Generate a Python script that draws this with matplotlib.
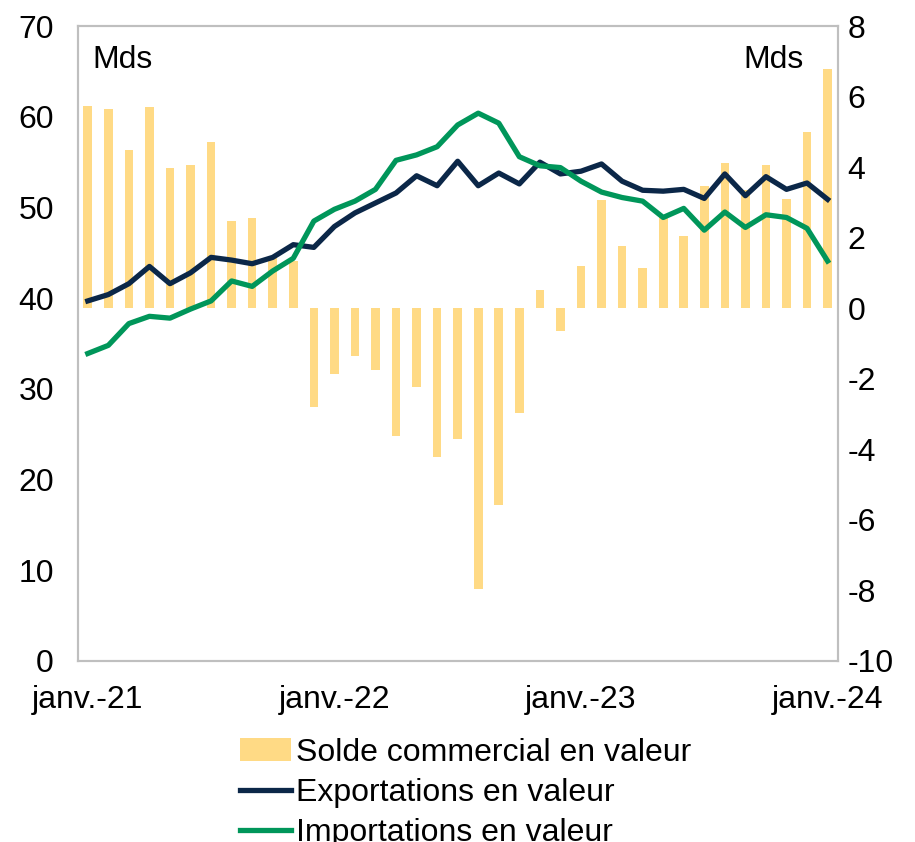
import numpy as np
import matplotlib.pyplot as plt

plt.rcParams['font.family'] = ['Liberation Sans', 'DejaVu Sans']
plt.rcParams['axes.unicode_minus'] = False

# monthly data, janv.-21 .. janv.-24 (Mds)
solde = [5.73, 5.65, 4.49, 5.70, 3.98, 4.06, 4.70, 2.47, 2.55, 1.45, 1.35,
         -2.80, -1.85, -1.35, -1.75, -3.61, -2.22, -4.21, -3.72, -7.95, -5.59,
         -2.96, 0.51, -0.64, 1.20, 3.07, 1.76, 1.14, 2.60, 2.04, 3.46, 4.12,
         3.35, 4.07, 3.11, 4.99, 6.77]
exports = [39.7, 40.4, 41.6, 43.5, 41.6, 42.8, 44.5, 44.2, 43.8, 44.5, 45.9,
           45.6, 47.9, 49.4, 50.5, 51.6, 53.5, 52.4, 55.1, 52.4, 53.8, 52.6,
           55.0, 53.7, 54.0, 54.8, 52.9, 51.9, 51.8, 52.0, 51.0, 53.7, 51.3,
           53.4, 52.0, 52.7, 50.9]
imports = [33.9, 34.8, 37.2, 38.0, 37.8, 38.8, 39.7, 41.9, 41.3, 43.0, 44.4,
           48.5, 49.8, 50.7, 52.0, 55.2, 55.8, 56.7, 59.1, 60.4, 59.3, 55.6,
           54.6, 54.4, 52.9, 51.7, 51.1, 50.7, 48.9, 49.9, 47.5, 49.5, 47.8,
           49.2, 48.9, 47.7, 44.1]
tick_idx = [0, 12, 24, 36]
tick_labels = ['janv.-21', 'janv.-22', 'janv.-23', 'janv.-24']

x = np.arange(len(solde))
fs = 23
grey = '#BFBFBF'

fig = plt.figure(figsize=(9.15, 8.42), dpi=100)
ax = fig.add_axes([0.0847, 0.215, 0.831, 0.754])
ax2 = ax.twinx()
ax.set_zorder(2)
ax2.set_zorder(1)
ax.patch.set_visible(False)

# bars on right axis
b = ax2.bar(x, solde, width=0.42, color='#FFDA85', label='Solde commercial en valeur')
ax2.set_ylim(-10, 8)
ax2.set_yticks(np.arange(-10, 9, 2))

# lines on left axis
l1, = ax.plot(x, exports, color='#0B2748', lw=3.8, label='Exportations en valeur')
l2, = ax.plot(x, imports, color='#00965A', lw=3.8, label='Importations en valeur')
ax.set_ylim(0, 70)
ax.set_yticks(np.arange(0, 71, 10))
ax.set_xlim(-0.5, len(solde) - 0.5)
ax.set_xticks(tick_idx)
ax.set_xticklabels(tick_labels)

ax.tick_params(axis='both', length=0, labelsize=fs)
ax.tick_params(axis='x', pad=17)
ax.tick_params(axis='y', pad=17)
ax2.tick_params(axis='y', length=0, labelsize=fs, pad=7)

for a in (ax, ax2):
    for s in a.spines.values():
        s.set_color(grey)
        s.set_linewidth(1.5)

ax.text(0.02, 0.97, 'Mds', transform=ax.transAxes, fontsize=fs, va='top', ha='left')
ax.text(0.955, 0.97, 'Mds', transform=ax.transAxes, fontsize=fs, va='top', ha='right')

fig.legend([b, l1, l2], [b.get_label(), l1.get_label(), l2.get_label()],
           loc='upper left', bbox_to_anchor=(0.262, 0.124), frameon=False,
           fontsize=fs, borderpad=0, borderaxespad=0, handlelength=1.6,
           handletextpad=0.15, labelspacing=0.32)

fig.savefig('out.png', dpi=100)
